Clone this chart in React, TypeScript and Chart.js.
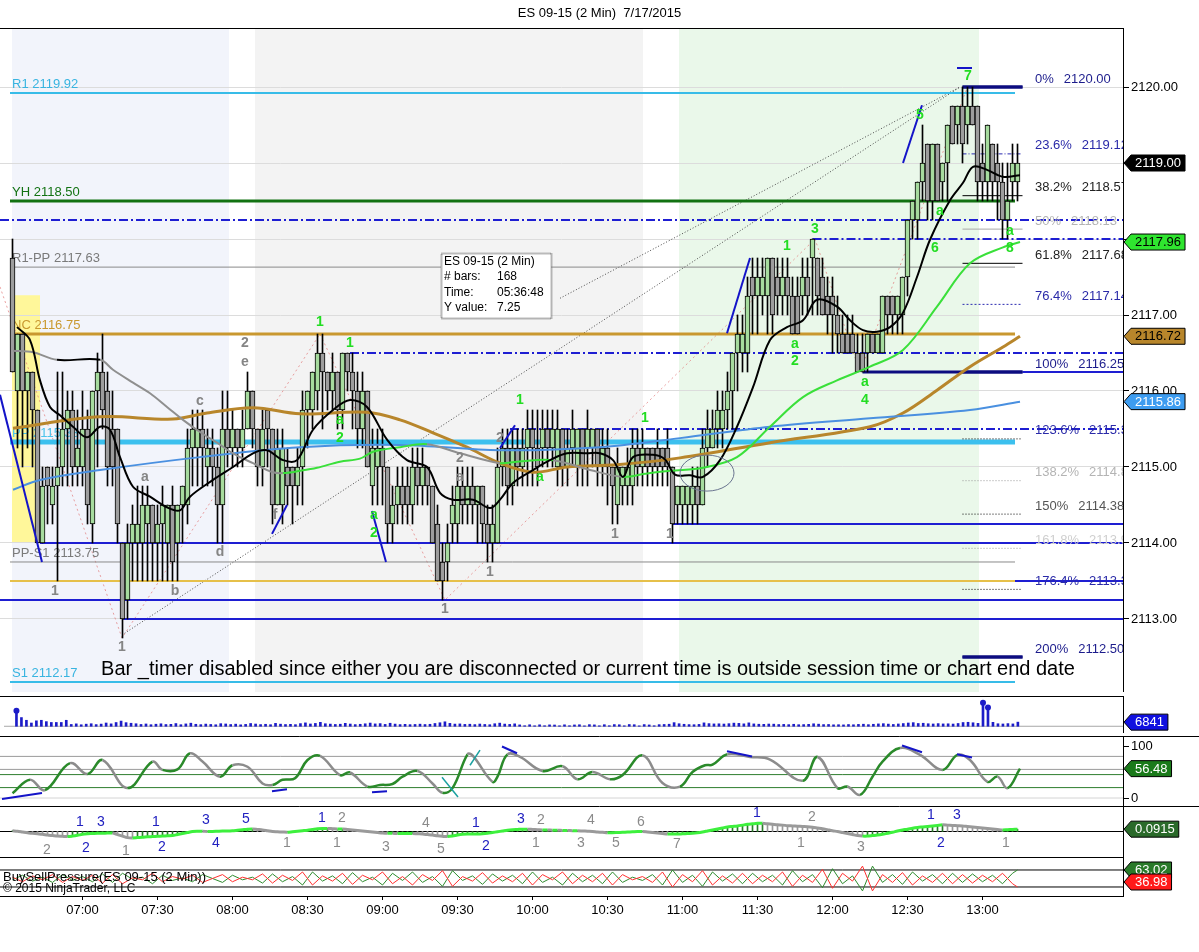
import { useEffect, useRef } from "react";
import { Chart, registerables } from "chart.js";

Chart.register(...registerables);

const FONT = "Arial, 'Liberation Sans', Helvetica, sans-serif";
const CANVAS_W = 1199;
const AXIS_W = 76;
const AXIS_X = 1123;
const X_MIN = -2.5;
const X_MAX = 222.1;

/* ======================= DATA ======================= */
const chartTitle = "ES 09-15 (2 Min)  7/17/2015";
const timeLabels = ["07:00", "07:30", "08:00", "08:30", "09:00", "09:30", "10:00", "10:30", "11:00", "11:30", "12:00", "12:30", "13:00"];
const timeTickBars = [14, 29, 44, 59, 74, 89, 104, 119, 134, 149, 164, 179, 194];
const priceTicks = [2113, 2114, 2115, 2116, 2117, 2118, 2119, 2120];
const oscTicks = [0, 100];

const opens = [
  2117.75, 2116, 2116.75, 2116, 2116.25, 2115.75, 2114, 2115, 2114.5, 2114.75,
  2115, 2115.5, 2115.75, 2115, 2115, 2115.5, 2114.25, 2116, 2116.25, 2116,
  2115.5, 2115.5, 2114, 2113.25, 2114, 2114, 2114, 2114.25, 2114.5, 2114,
  2114.25, 2114, 2114.5, 2114, 2114.5, 2114.5, 2115.25, 2115.25, 2115.5, 2115,
  2115.25, 2115, 2114.5, 2115.5, 2115.25, 2115.5, 2115.25, 2115.5, 2116, 2115.5,
  2115, 2115.75, 2115.5, 2114.5, 2114.5, 2115, 2115, 2114.75, 2115, 2115.75,
  2115.75, 2116, 2116.5, 2116.25, 2116, 2116.25, 2115.75, 2116.5, 2116.25, 2116,
  2115.5, 2116, 2114.75, 2115, 2115.25, 2115, 2114.25, 2114.5, 2114.75, 2114.75,
  2114.5, 2115, 2114.75, 2115, 2114.75, 2114.25, 2113.75, 2113.75, 2114.25, 2114.25,
  2114.75, 2114.5, 2114.75, 2114.5, 2114.75, 2114.25, 2114, 2114, 2115, 2115.25,
  2114.75, 2115.25, 2115, 2115.25, 2115.5, 2115.25, 2115.25, 2115.5, 2115.25, 2115,
  2115.5, 2115, 2115.25, 2115, 2115.5, 2115.25, 2115.25, 2115.5, 2115, 2115.25,
  2115, 2114.5, 2114.75, 2114.75, 2114.75, 2115.25, 2115, 2115.25, 2115.25, 2115.25,
  2115.25, 2115.25, 2115, 2114.5, 2114.5, 2114.5, 2114.5, 2114.75, 2114.5, 2115.25,
  2115.25, 2115.5, 2115.5, 2115.75, 2116, 2116.5, 2116.5, 2116.5, 2117.5, 2117.25,
  2117.25, 2117.25, 2117.75, 2117.5, 2117.25, 2117.5, 2117.25, 2117.25, 2117.25, 2117.5,
  2117.75, 2117.75, 2117.5, 2117.25, 2117.25, 2117, 2116.75, 2116.75, 2116.75, 2116.5,
  2116.5, 2116.5, 2116.75, 2116.5, 2116.5, 2117.25, 2117.25, 2117, 2117, 2117.5,
  2118.25, 2118.25, 2118.75, 2119.25, 2118.5, 2119.25, 2118.75, 2119, 2119.75, 2119.5,
  2119.75, 2119.5, 2119.75, 2119.75, 2119, 2118.75, 2119.25, 2119, 2118.75, 2118.25,
  2118.75, 2118.75,
];
const highs = [
  2118, 2116.75, 2116.75, 2116.25, 2116.25, 2115.75, 2115, 2115, 2115, 2116.25,
  2116.25, 2116, 2116, 2115.75, 2116, 2115.75, 2116, 2116.5, 2116.75, 2116.25,
  2116, 2115.5, 2114, 2114.25, 2114.5, 2114.75, 2114.75, 2114.75, 2114.5, 2114.5,
  2114.75, 2114.5, 2114.75, 2114.5, 2114.75, 2115.5, 2115.75, 2115.75, 2115.75, 2115.5,
  2115.5, 2115.25, 2116, 2116, 2115.75, 2115.5, 2115.75, 2116.25, 2116, 2115.5,
  2115.75, 2115.75, 2115.5, 2115.5, 2115.5, 2115.25, 2115, 2115.25, 2116, 2116,
  2116.25, 2116.75, 2116.75, 2116.25, 2116.5, 2116.25, 2116.5, 2116.5, 2116.5, 2116.25,
  2116.25, 2116, 2115.5, 2115.5, 2115.5, 2115, 2114.75, 2115, 2115, 2115,
  2115.25, 2115.25, 2115.25, 2115, 2114.75, 2114.5, 2114, 2114.25, 2114.75, 2115,
  2115, 2115, 2115, 2114.75, 2114.75, 2114.5, 2114.5, 2115.25, 2115.5, 2115.5,
  2115.5, 2115.5, 2115.5, 2115.75, 2115.75, 2115.75, 2115.75, 2115.75, 2115.75, 2115.75,
  2115.5, 2115.5, 2115.75, 2115.5, 2115.5, 2115.75, 2115.5, 2115.5, 2115.5, 2115.5,
  2115, 2115.25, 2115, 2115.25, 2115.5, 2115.5, 2115.5, 2115.25, 2115.25, 2115.5,
  2115.25, 2115.5, 2115, 2114.75, 2114.75, 2114.75, 2115, 2115, 2115.5, 2115.75,
  2115.75, 2116, 2116, 2116.25, 2116.5, 2117, 2117, 2117.5, 2117.75, 2117.75,
  2117.75, 2117.75, 2117.75, 2117.75, 2117.75, 2117.75, 2117.5, 2117.5, 2117.75, 2117.75,
  2118, 2117.75, 2117.75, 2117.5, 2117.5, 2117.25, 2117, 2117, 2117, 2116.75,
  2116.75, 2116.75, 2116.75, 2116.75, 2117.25, 2117.25, 2117.25, 2117.25, 2117.5, 2118.25,
  2118.5, 2118.75, 2119.5, 2119.25, 2119.25, 2119.25, 2119, 2119.5, 2119.75, 2119.75,
  2120, 2120, 2120, 2119.75, 2119.25, 2119.5, 2119.25, 2119.25, 2119, 2119,
  2119.25, 2119.25,
];
const lows = [
  2116.25, 2115.25, 2115, 2115.25, 2115, 2114, 2114, 2114.25, 2114.25, 2113.5,
  2114.75, 2114.75, 2114.75, 2114.75, 2114.75, 2114.25, 2114, 2115, 2115.5, 2114.75,
  2114.75, 2114, 2112.75, 2113, 2113.5, 2113.5, 2113.5, 2113.5, 2113.5, 2113.5,
  2113.5, 2113.5, 2113.5, 2113.5, 2114, 2114.25, 2114.75, 2114.75, 2114.75, 2114.75,
  2114.75, 2114, 2114, 2115, 2115, 2115, 2115, 2115.5, 2115.25, 2114.75,
  2114.75, 2115, 2114.25, 2114.5, 2114.25, 2114.5, 2114.25, 2114.5, 2114.5, 2115.25,
  2115.5, 2115.75, 2115.5, 2115.75, 2115.75, 2115.5, 2115.5, 2116, 2115.5, 2115.25,
  2115.25, 2115, 2114.5, 2114.5, 2114.5, 2114, 2114, 2114.25, 2114.25, 2114.25,
  2114.25, 2114.5, 2114.5, 2114.5, 2114, 2113.5, 2113.25, 2113.5, 2114, 2114,
  2114.25, 2114.25, 2114.25, 2114, 2114, 2113.75, 2113.75, 2114, 2114.75, 2114.5,
  2114.5, 2114.75, 2114.75, 2114.75, 2114.75, 2114.75, 2115, 2115, 2115, 2114.75,
  2114.75, 2114.75, 2115, 2114.75, 2114.75, 2114.75, 2115, 2114.75, 2114.75, 2114.5,
  2114.25, 2114.25, 2114.5, 2114.5, 2114.5, 2114.75, 2114.75, 2114.75, 2114.75, 2114.75,
  2114.75, 2114.75, 2114, 2114.25, 2114.25, 2114.25, 2114.25, 2114.25, 2114.5, 2115,
  2115.25, 2115.25, 2115.25, 2115.5, 2115.5, 2116, 2116.25, 2116.25, 2116.75, 2116.75,
  2117, 2116.75, 2116.75, 2117, 2117, 2117, 2116.75, 2116.75, 2117, 2117,
  2117, 2117, 2117, 2116.75, 2116.5, 2116.5, 2116.5, 2116.5, 2116.5, 2116.25,
  2116.25, 2116.25, 2116.5, 2116.5, 2116.5, 2116.75, 2116.75, 2116.75, 2116.75, 2117.25,
  2118, 2118, 2118.5, 2118.25, 2118.25, 2118.5, 2118.5, 2118.5, 2119.25, 2119.25,
  2119, 2119.25, 2119.5, 2118.5, 2118.5, 2118.5, 2118.5, 2118.25, 2118, 2118,
  2118.5, 2118.5,
];
const closes = [
  2116.25, 2116.75, 2116, 2116.25, 2115.75, 2114, 2114.75, 2114.75, 2114.75, 2115,
  2115.5, 2115.75, 2115, 2115.25, 2115.5, 2114.5, 2116, 2116.25, 2115.75, 2115,
  2115, 2114.25, 2113, 2114, 2114.25, 2114.25, 2114.5, 2114.5, 2114, 2114.25,
  2114.5, 2114.5, 2113.75, 2114.5, 2114.75, 2115.25, 2115.5, 2115.5, 2115.25, 2115.25,
  2115, 2114.5, 2115.5, 2115.25, 2115.5, 2115.25, 2115.5, 2116, 2115.5, 2115,
  2115.5, 2115.5, 2114.5, 2115.25, 2115.25, 2114.75, 2114.75, 2115, 2115.75, 2116,
  2116.25, 2116.5, 2116.25, 2116, 2116.25, 2115.75, 2116.5, 2116.25, 2116, 2115.5,
  2116, 2115, 2115.25, 2115.25, 2115, 2114.25, 2114.5, 2114.75, 2114.5, 2114.5,
  2115, 2114.75, 2115, 2114.75, 2114, 2113.5, 2113.5, 2114, 2114.5, 2114.75,
  2114.5, 2114.75, 2114.5, 2114.75, 2114.25, 2114, 2114.25, 2115, 2115.25, 2114.75,
  2115.25, 2115, 2115.25, 2115.5, 2115.25, 2115, 2115.5, 2115.25, 2115.5, 2115.5,
  2115, 2115.25, 2115.5, 2115.5, 2115, 2115.5, 2115.5, 2115, 2115.25, 2115,
  2114.75, 2115, 2115, 2115, 2115.25, 2115, 2115.25, 2115, 2115, 2115,
  2115, 2115, 2114.25, 2114.75, 2114.75, 2114.75, 2114.75, 2114.5, 2115.25, 2115.5,
  2115.5, 2115.75, 2115.75, 2116, 2116.5, 2116.75, 2116.75, 2117.25, 2117.25, 2117.5,
  2117.5, 2117.75, 2117, 2117.25, 2117.5, 2117.25, 2116.75, 2116.75, 2117.5, 2117.25,
  2118, 2117.25, 2117, 2117, 2117, 2116.75, 2116.5, 2116.5, 2116.5, 2116.25,
  2116.25, 2116.75, 2116.5, 2116.75, 2117.25, 2117, 2117, 2117.25, 2117.5, 2118.25,
  2118.5, 2118.75, 2119, 2118.5, 2119.25, 2118.5, 2119, 2119.5, 2119.25, 2119.75,
  2119.25, 2119.75, 2119.5, 2118.75, 2118.75, 2119.5, 2118.75, 2118.75, 2118.25, 2118.5,
  2119, 2119,
];
const volumes = [
  25700, 14400, 9900, 5400, 9000, 9900, 7700, 6300, 6300, 6300, 9900,
  3000, 4000, 2500, 3500, 4200, 2800, 3600, 5400, 4000, 6200,
  8600, 6000, 5000, 4200, 3000, 3800, 2600, 3400, 4100, 2900,
  3200, 4500, 2600, 3900, 5100, 3300, 2700, 3600, 3000, 2500,
  4300, 3800, 2900, 3500, 2400, 3100, 4600, 3700, 2800, 3300,
  2600, 4800, 3500, 2900, 3200, 2700, 4400, 5600, 3800, 4700,
  6500, 4200, 3600, 3000, 3400, 4900, 3700, 2800, 3300, 4100,
  5300, 3900, 4400, 3100, 5000, 3600, 2800, 3200, 2700, 3000,
  3500, 2900, 3300, 4600, 5800, 7400, 4800, 3600, 3900, 3100,
  3400, 2800, 3700, 3000, 2600, 4200, 5200, 3600, 3100, 4000,
  2300, 900, 2500, 800, 2400, 900, 2300, 2100, 800, 2400,
  900, 2200, 2500, 700, 2700, 2300, 800, 2600, 900, 2800,
  2500, 800, 2900, 2600, 700, 2800, 2200, 900, 2700, 3000,
  3400, 6000, 4200, 3300, 2800, 2600, 3100, 5600, 4400, 3900,
  4100, 3700, 4300, 5200, 4800, 4000, 5600, 3900, 3400, 3200,
  3700, 3500, 2900, 3100, 2700, 3300, 2600, 2800, 3200, 4100,
  3500, 2800, 3000, 2400, 2600, 2300, 2900, 2500, 3100, 3400,
  2700, 3300, 3900, 4300, 3600, 3000, 3800, 4500, 5400, 6000,
  4600, 5000, 4200, 3800, 4400, 3900, 4100, 3700, 4600, 6200,
  6600, 5800, 4800, 39000, 31000, 6500, 4200, 3800, 4400, 3900, 6841,
];

// moving averages: [bar index, price]
const fastMA = [
  [0.9, 2116.84], [3.5, 2116.67], [5.5, 2116.14], [7.5, 2115.79], [9.5, 2115.68], [12.1, 2115.53], [14.9, 2115.39],
  [17.5, 2115.53], [19.5, 2115.49], [21.5, 2115.13], [24.1, 2114.74], [27.5, 2114.61], [30.9, 2114.47], [33.5, 2114.43],
  [35.5, 2114.61], [40.1, 2114.83], [44.1, 2115.0], [48.1, 2115.18], [50.9, 2115.22], [54.1, 2115.09], [56.9, 2115.09],
  [60.1, 2115.49], [64.1, 2115.75], [67.5, 2115.88], [70.9, 2115.79], [74.9, 2115.36], [78.9, 2115.09], [82.9, 2115.0],
  [85.5, 2114.66], [88.1, 2114.57], [92.1, 2114.57], [95.5, 2114.46], [97.5, 2114.57], [100.1, 2114.79], [104.1, 2114.96],
  [107.5, 2115.09], [110.9, 2115.18], [114.9, 2115.18], [117.5, 2115.18], [120.1, 2115.09], [122.1, 2114.87], [124.1, 2115.13],
  [128.1, 2115.16], [130.5, 2115.1], [132.5, 2114.9], [135.5, 2114.89], [138.1, 2114.87], [141.5, 2115.09], [144.9, 2115.53],
  [148.1, 2116.05], [151.5, 2116.67], [154.9, 2116.84], [158.1, 2116.93], [160.9, 2117.2], [164.9, 2117.11], [167.5, 2116.93],
  [170.1, 2116.8], [172.9, 2116.78], [175.5, 2116.84], [178.1, 2117.03], [180.9, 2117.5], [183.5, 2117.99], [187.5, 2118.51],
  [190.1, 2118.74], [192.1, 2118.95], [194.9, 2118.91], [198.1, 2118.82], [201.5, 2118.84],
];
const midMA = [
  [0.1, 2116.53], [4.1, 2116.51], [8.9, 2116.41], [17.5, 2116.41], [20.1, 2116.28], [24.1, 2116.11], [27.5, 2115.97],
  [30.9, 2115.79], [34.1, 2115.62], [37.5, 2115.46], [40.9, 2115.32], [44.1, 2115.18], [48.1, 2115.05], [52.1, 2114.93],
  [54.1, 2114.92], [57.5, 2114.95], [60.9, 2114.99], [65.5, 2115.07], [69.5, 2115.11], [72.1, 2115.2], [77.5, 2115.26],
  [82.9, 2115.3], [89.5, 2115.18], [97.5, 2115.05], [100.9, 2115.07], [108.1, 2115.09], [115.5, 2114.96], [122.1, 2114.87],
  [126.5, 2114.91], [131.5, 2114.95], [138.1, 2114.99], [144.9, 2115.13], [151.5, 2115.53], [158.1, 2115.92], [164.9, 2116.14],
  [171.5, 2116.32], [178.1, 2116.54], [184.9, 2117.11], [191.5, 2117.68], [198.1, 2117.89], [201.5, 2117.96],
];
const slowMA = [
  [0.1, 2115.51], [17.5, 2115.66], [32.1, 2115.63], [38.9, 2115.71], [48.1, 2115.78], [57.5, 2115.7], [70.9, 2115.72],
  [77.5, 2115.62], [84.1, 2115.45], [90.9, 2115.26], [97.5, 2115.05], [104.1, 2114.93], [110.9, 2115.0], [120.9, 2115.03],
  [133.5, 2115.12], [151.5, 2115.32], [171.5, 2115.53], [178.1, 2115.71], [184.9, 2116.01], [191.5, 2116.32], [198.1, 2116.58],
  [201.5, 2116.72],
];
const longMA = [
  [0.1, 2114.7], [5.5, 2114.83], [17.5, 2114.96], [37.5, 2115.13], [57.5, 2115.26], [77.5, 2115.29], [97.5, 2115.22],
  [117.5, 2115.26], [133.5, 2115.38], [151.5, 2115.53], [171.5, 2115.64], [191.5, 2115.75], [201.5, 2115.86],
];

// horizontal levels
const pivotLevels = [["R1", 2119.92], ["YH", 2118.5], ["R1-PP", 2117.63], ["NC", 2116.75], ["PP", 2115.33], ["PP-S1", 2113.75], ["S1", 2112.17]];
const pivotSpan = [-0.5, 200.5];
const goldLevel = [2113.5, -0.5, 200.5];
// [price, from bar, to bar (null = right edge), dash-dot?]
const srLevels = [
  [2118.25, -2.5, null, true], [2118.0, 160, null, true], [2116.5, 67.5, null, true], [2115.5, 99.5, null, true],
  [2116.25, 202, null, false], [2114.25, 132, null, false], [2114.0, 5.5, null, false], [2113.5, 200.5, null, false],
  [2113.25, -2.5, null, false], [2113.0, 22, null, false],
];
const swingLevels = [[2120.0, 190, 202], [2116.25, 170, 202], [2112.5, 190, 202]];
const fibLevels = [
  ["0%", 2120.0], ["23.6%", 2119.12], ["38.2%", 2118.57], ["50%", 2118.13], ["61.8%", 2117.68], ["76.4%", 2117.14],
  ["100%", 2116.25], ["123.6%", 2115.37], ["138.2%", 2114.82], ["150%", 2114.38], ["161.8%", 2113.93], ["176.4%", 2113.39],
  ["200%", 2112.5],
];
const fibSpan = [190, 202];
const fibLabelBar = 204.5;

const sessionShades = [[-0.1, 43.3], [48.5, 126.1], [133.3, 193.3]];
const highlightBox = [-0.1, 5.5, 2117.26, 2114.0];
const trendSegments = [
  [-2.5, 2115.95, 5.9, 2113.75], [51.9, 2114.12, 54.9, 2114.5], [71.9, 2114.42, 74.7, 2113.75],
  [97.5, 2115.25, 100.5, 2115.55], [142.9, 2116.76, 147.5, 2117.75], [178.1, 2119.0, 181.9, 2119.76],
  [188.9, 2120.25, 191.9, 2120.25],
];
const guideLines = [[21.9, 2112.79, 189.5, 2120.0], [109.5, 2117.22, 189.5, 2120.0]];
const zigzag = [[-2.5, 2117.37], [21.9, 2112.75], [61.5, 2116.75], [86.5, 2113.25], [160.5, 2118.0], [169.5, 2116.25], [191, 2120.0]];
const ellipseCenter = [138.9, 2114.92];
const greenLabels = [
  [61.5, 2116.9, "1"], [67.5, 2116.63, "1"], [65.5, 2115.62, "a"], [65.5, 2115.38, "2"], [72.3, 2114.36, "a"], [72.3, 2114.13, "2"],
  [101.5, 2115.88, "1"], [105.5, 2114.87, "a"], [126.5, 2115.64, "1"], [154.9, 2117.9, "1"], [160.5, 2118.13, "3"],
  [156.5, 2116.62, "a"], [156.5, 2116.39, "2"], [170.5, 2116.12, "a"], [170.5, 2115.88, "4"], [181.5, 2119.63, "5"],
  [191.1, 2120.14, "7"], [185.5, 2118.37, "a"], [184.5, 2117.88, "6"], [199.5, 2118.1, "a"], [199.5, 2117.88, "8"],
];
const grayLabels = [
  [8.5, 2113.37, "1"], [21.9, 2112.63, "1"], [32.5, 2113.37, "b"], [26.5, 2114.87, "a"], [37.5, 2115.87, "c"], [41.5, 2113.88, "d"],
  [46.5, 2116.63, "2"], [46.5, 2116.38, "e"], [52.5, 2114.37, "f"], [89.5, 2115.12, "2"], [89.5, 2114.87, "a"], [97.5, 2115.38, "2"],
  [95.5, 2113.62, "1"], [86.5, 2113.13, "1"], [120.5, 2114.12, "1"], [131.5, 2114.12, "1"],
];
const infoBox = [85.7, 2117.82, 107.7, 2116.96];
const infoRows = [["ES 09-15 (2 Min)", ""], ["# bars:", "168"], ["Time:", "05:36:48"], ["Y value:", "7.25"]];
const timerMessage = "Bar _timer disabled since either you are disconnected or current time is outside session time or chart end date";
const timerAnchor = [115.1, 2112.34];

// oscillator panel: [bar, value]
const oscPoints = [
  [0, 9], [3.5, 35], [6.5, 15], [11.5, 67], [15, 46], [18, 73], [23, 19], [28, 70], [30, 54], [33, 55], [35.5, 86], [38, 70],
  [41.5, 41], [44, 63], [47, 60], [50, 28], [52, 25], [54, 35], [56.5, 38], [59, 73], [61.5, 81], [65.5, 44], [67.5, 49],
  [71, 22], [73.5, 25], [76, 27], [78, 41], [81, 52], [84, 28], [86, 10], [88, 19], [91, 84], [92, 82], [96, 31], [97, 41],
  [99, 84], [101.5, 79], [106, 52], [110, 61], [113, 36], [116, 50], [119.5, 36], [122, 44], [126, 82], [130, 29],
  [133.5, 22], [136, 50], [138.5, 63], [140, 64], [143, 84], [147.5, 79], [151.5, 74], [158, 33], [161, 79], [165, 19],
  [167, 22], [169.5, 6], [172, 41], [174, 70], [177.5, 96], [181.5, 83], [186, 54], [189, 83], [191.5, 73], [195, 31],
  [197, 41], [199, 19], [201.5, 56.48],
];
const oscLevels = [80, 55, 45, 20, 0];
const oscTrend = [
  [-2.1, -2, 5.9, 9.6], [51.9, 13, 54.9, 17], [71.9, 11, 74.9, 13], [97.9, 99, 100.9, 86],
  [142.9, 90, 147.9, 80], [177.9, 101, 181.9, 88], [188.9, 84, 191.9, 78],
];
const oscTeal = [[85.9, 40, 89.1, 2], [91.5, 63, 93.5, 92]];

// histogram panel (one value per bar)
const histValues = [
  0.03, 0.01, -0.02, -0.05, -0.07, -0.09, -0.11, -0.14, -0.16, -0.18,
  -0.19, -0.2, -0.18, -0.15, -0.11, -0.09, -0.08, -0.07, -0.07, -0.06,
  -0.06, -0.12, -0.18, -0.24, -0.25, -0.24, -0.23, -0.21, -0.2, -0.19,
  -0.18, -0.17, -0.16, -0.12, -0.08, -0.04, 0.0, 0.01, 0.01, 0.0,
  0.0, 0.01, 0.02, 0.02, 0.03, 0.05, 0.07, 0.09, 0.1, 0.08,
  0.06, 0.03, 0.0, -0.01, -0.02, -0.03, -0.01, 0.01, 0.03, 0.05,
  0.08, 0.11, 0.12, 0.12, 0.11, 0.1, 0.1, 0.08, 0.06, 0.04,
  0.02, 0.0, -0.02, -0.04, -0.06, -0.07, -0.07, -0.08, -0.08, -0.08,
  -0.08, -0.09, -0.1, -0.12, -0.14, -0.17, -0.19, -0.2, -0.18, -0.14,
  -0.11, -0.1, -0.1, -0.1, -0.09, -0.07, -0.04, -0.01, 0.02, 0.05,
  0.07, 0.08, 0.09, 0.09, 0.08, 0.07, 0.06, 0.06, 0.05, 0.05,
  0.04, 0.04, 0.03, 0.03, 0.02, 0.01, 0.0, -0.02, -0.03, -0.05,
  -0.05, -0.04, -0.03, -0.02, -0.01, 0.0, 0.0, -0.02, -0.04, -0.06,
  -0.08, -0.1, -0.1, -0.1, -0.09, -0.08, -0.07, -0.05, -0.02, 0.02,
  0.06, 0.1, 0.14, 0.18, 0.2, 0.22, 0.25, 0.28, 0.3, 0.32,
  0.32, 0.3, 0.28, 0.26, 0.25, 0.23, 0.22, 0.21, 0.2, 0.19,
  0.17, 0.14, 0.11, 0.07, 0.03, 0.0, -0.04, -0.08, -0.12, -0.16,
  -0.18, -0.18, -0.16, -0.14, -0.11, -0.07, -0.03, 0.02, 0.06, 0.09,
  0.13, 0.16, 0.18, 0.2, 0.22, 0.24, 0.26, 0.25, 0.24, 0.23,
  0.22, 0.2, 0.18, 0.16, 0.14, 0.12, 0.1, 0.08, 0.06, 0.07,
  0.08, 0.0915,
];
const histLabelsBlue = [
  [13.5, 0.37, "1"], [17.7, 0.37, "3"], [14.7, -0.65, "2"], [28.7, 0.37, "1"], [29.9, -0.61, "2"], [38.7, 0.45, "3"],
  [40.7, -0.45, "4"], [46.7, 0.49, "5"], [61.9, 0.53, "1"], [92.7, 0.33, "1"], [94.7, -0.57, "2"], [101.7, 0.49, "3"],
  [148.9, 0.73, "1"], [183.7, 0.65, "1"], [188.9, 0.65, "3"], [185.7, -0.45, "2"],
];
const histLabelsGray = [
  [6.9, -0.73, "2"], [22.7, -0.76, "1"], [54.9, -0.45, "1"], [65.9, 0.53, "2"], [64.9, -0.45, "1"], [74.7, -0.61, "3"],
  [82.7, 0.33, "4"], [85.7, -0.69, "5"], [105.7, 0.45, "2"], [104.7, -0.45, "1"], [113.7, -0.45, "3"], [115.7, 0.45, "4"],
  [120.7, -0.45, "5"], [125.7, 0.37, "6"], [132.9, -0.49, "7"], [159.9, 0.57, "2"], [157.7, -0.45, "1"], [169.7, -0.61, "3"],
  [198.7, -0.45, "1"],
];

// BuySellPressure: buy-side value [bar, value]; sell side is its complement
const bspGreen = [
  [0, 48], [2, 55], [4, 46], [6, 52], [8, 44], [10, 56], [12, 47], [14, 53], [16, 45], [18, 57], [20, 44], [22, 58], [24, 49],
  [26, 52], [28, 42], [30, 55], [32, 47], [34, 51], [36, 45], [38, 56], [40, 50], [42, 44], [44, 55], [46, 48], [48, 52],
  [50, 43], [52, 57], [54, 45], [56, 53], [58, 40], [60, 60], [62, 46], [64, 54], [66, 42], [68, 59], [70, 45], [72, 52],
  [74, 40], [76, 58], [78, 47], [80, 60], [82, 44], [84, 53], [86, 38], [88, 62], [90, 47], [92, 54], [94, 41], [96, 57],
  [98, 46], [100, 55], [102, 42], [104, 60], [106, 44], [108, 52], [110, 40], [112, 58], [114, 45], [116, 55], [118, 42],
  [120, 60], [122, 44], [124, 52], [126, 47], [128, 56], [130, 40], [132, 63], [134, 44], [136, 55], [138, 38], [140, 60],
  [142, 46], [144, 57], [146, 42], [148, 58], [150, 45], [152, 55], [154, 40], [156, 62], [158, 45], [160, 56], [162, 36],
  [164, 65], [166, 42], [168, 54], [170, 31], [172, 69], [174, 44], [176, 56], [178, 41], [180, 60], [182, 46], [184, 56],
  [186, 42], [188, 58], [190, 44], [192, 57], [194, 45], [196, 55], [198, 42], [200, 58], [201, 63.02],
];

/* ======================= STYLES ======================= */
const UP_COLOR = "#a6db9e";
const DOWN_COLOR = "#9d9d9d";
const SR_BLUE = "#1e1ed2";
const NAVY = "#0c0c80";
const DASHDOT = [9, 3, 2, 3];
const SHADE_COLORS = ["#f2f4fb", "#f3f3f3", "#eaf8ea"];
const PIVOT_STYLE: any = {
  R1: { c: "#38bce8", t: "#38b4e0", w: 2 },
  YH: { c: "#127212", t: "#127212", w: 3 },
  "R1-PP": { c: "#8a8a8a", t: "#7a7a7a", w: 1 },
  NC: { c: "#c9982f", t: "#c9982f", w: 3 },
  PP: { c: "#3cc0ee", t: "#4cc4ec", w: 5 },
  "PP-S1": { c: "#8a8a8a", t: "#7a7a7a", w: 1 },
  S1: { c: "#38bce8", t: "#38b4e0", w: 2 },
};
const FIB_STYLE = [
  { c: NAVY, w: 3, d: [] }, { c: "#2a2ab0", w: 1, d: [4, 2, 1, 2] }, { c: "#000", w: 1, d: [] }, { c: "#a8a8a8", w: 1, d: [] },
  { c: "#000", w: 1, d: [] }, { c: "#2a2ab0", w: 1, d: [2, 2] }, { c: NAVY, w: 3, d: [] }, { c: "#000", w: 1, d: [1, 2] },
  { c: "#999", w: 1, d: [1, 2] }, { c: "#000", w: 1, d: [1, 2] }, { c: "#999", w: 1, d: [1, 2] }, { c: "#000", w: 1, d: [1, 2] },
  { c: NAVY, w: 3, d: [] },
];
const FIB_TEXT = ["#1c1c8c", "#2a2aa8", "#222", "#b4b4b4", "#222", "#2a2aa8", "#1c1c8c", "#2a2aa8", "#b4b4b4", "#555", "#cfcfcf", "#2a2aa8", "#1c1c8c"];
const OSC_LEVEL_COLORS = ["#9a9a9a", "#9a9a9a", "#2e7d2e", "#2e7d2e", "#d4d4d4"];

/* ======================= HELPERS ======================= */
const fitRight = (s: any) => {
  s.width = AXIS_W;
  s.paddingTop = 0;
  s.paddingBottom = 0;
};
const hiddenX = () => ({ type: "linear", min: X_MIN, max: X_MAX, offset: false, display: false });

function rightAxis(min: number, max: number, extra: any = {}) {
  return {
    type: "linear",
    position: "right",
    min,
    max,
    offset: false,
    beginAtZero: false,
    afterFit: fitRight,
    border: { display: true, color: "#000", width: 1 },
    grid: { display: false },
    ticks: { display: false },
    ...extra,
  };
}

function baseOptions(scales: any, plugins: any = {}) {
  return {
    responsive: false,
    maintainAspectRatio: false,
    animation: false,
    devicePixelRatio: 1,
    events: [],
    layout: { padding: 0 },
    plugins: { legend: { display: false }, tooltip: { enabled: false }, ...plugins },
    scales,
  };
}

function hline(value: number, from: number | null, to: number | null, color: string, width: number, dash: number[] = [], order = 20) {
  return {
    type: "line",
    data: [
      { x: from == null ? X_MIN : from, y: value },
      { x: to == null ? X_MAX : to, y: value },
    ],
    borderColor: color,
    borderWidth: width,
    borderDash: dash,
    pointRadius: 0,
    tension: 0,
    fill: false,
    order,
  };
}

function curve(points: number[][], color: string, width: number, order: number, tension = 0.35) {
  return {
    type: "line",
    data: points.map(([x, y]) => ({ x, y })),
    borderColor: color,
    borderWidth: width,
    pointRadius: 0,
    tension,
    fill: false,
    order,
  };
}

const pxX = (c: any) => (v: number) => c.scales.x.getPixelForValue(v);
const pxY = (c: any) => (v: number) => c.scales.y.getPixelForValue(v);

function withClip(chart: any, fn: (ctx: CanvasRenderingContext2D) => void) {
  const { ctx, chartArea: a } = chart;
  ctx.save();
  ctx.beginPath();
  ctx.rect(a.left, a.top, a.right - a.left, a.bottom - a.top);
  ctx.clip();
  fn(ctx);
  ctx.restore();
}

function hrule(ctx: CanvasRenderingContext2D, x1: number, x2: number, y: number) {
  ctx.save();
  ctx.strokeStyle = "#000";
  ctx.lineWidth = 1;
  ctx.beginPath();
  ctx.moveTo(x1, Math.round(y) + 0.5);
  ctx.lineTo(x2, Math.round(y) + 0.5);
  ctx.stroke();
  ctx.restore();
}

function vrule(ctx: CanvasRenderingContext2D, x: number, y1: number, y2: number) {
  ctx.save();
  ctx.strokeStyle = "#000";
  ctx.lineWidth = 1;
  ctx.beginPath();
  ctx.moveTo(x + 0.5, y1);
  ctx.lineTo(x + 0.5, y2);
  ctx.stroke();
  ctx.restore();
}

function drawMarker(ctx: CanvasRenderingContext2D, y: number, text: string, bg: string, fg: string) {
  const x = AXIS_X + 1;
  ctx.save();
  ctx.font = `13px ${FONT}`;
  const tw = ctx.measureText(text).width;
  const h = 16;
  const arrow = 7;
  const w = tw + 8;
  ctx.beginPath();
  ctx.moveTo(x, y);
  ctx.lineTo(x + arrow, y - h / 2);
  ctx.lineTo(x + arrow + w, y - h / 2);
  ctx.lineTo(x + arrow + w, y + h / 2);
  ctx.lineTo(x + arrow, y + h / 2);
  ctx.closePath();
  ctx.fillStyle = bg;
  ctx.fill();
  ctx.strokeStyle = "#000";
  ctx.lineWidth = 1;
  ctx.stroke();
  ctx.fillStyle = fg;
  ctx.textAlign = "left";
  ctx.textBaseline = "middle";
  ctx.fillText(text, x + arrow + 4, y + 0.5);
  ctx.restore();
}

function segLines(ctx: CanvasRenderingContext2D, X: any, Y: any, segs: number[][], color: string, width: number) {
  ctx.strokeStyle = color;
  ctx.lineWidth = width;
  ctx.setLineDash([]);
  segs.forEach(([a, b, c, d]) => {
    ctx.beginPath();
    ctx.moveTo(X(a), Y(b));
    ctx.lineTo(X(c), Y(d));
    ctx.stroke();
  });
}

const whiteBg = {
  id: "whiteBg",
  beforeDraw(chart: any) {
    const ctx = chart.ctx;
    ctx.save();
    ctx.fillStyle = "#fff";
    ctx.fillRect(0, 0, chart.width, chart.height);
    ctx.restore();
  },
};

/* ======================= MAIN PANEL ======================= */
const MAIN_MAX = 2120.77632;
const MAIN_MIN = 2112.03947;

const mainDecor = {
  id: "mainDecor",
  beforeDraw(chart: any) {
    const { ctx, chartArea: a } = chart;
    const X = pxX(chart);
    const Y = pxY(chart);
    ctx.save();
    ctx.fillStyle = "#fff";
    ctx.fillRect(0, 0, chart.width, chart.height);
    sessionShades.forEach(([f, t], k) => {
      ctx.fillStyle = SHADE_COLORS[k];
      ctx.fillRect(X(f), a.top, X(t) - X(f), a.bottom - a.top);
    });
    const [hf, ht, hp1, hp2] = highlightBox;
    ctx.fillStyle = "#fff79a";
    ctx.fillRect(X(hf), Y(hp1), X(ht) - X(hf), Y(hp2) - Y(hp1));
    ctx.restore();
  },
  beforeDatasetsDraw(chart: any) {
    const X = pxX(chart);
    const Y = pxY(chart);
    withClip(chart, (ctx) => {
      ctx.lineWidth = 1;
      ctx.strokeStyle = "#4a4a4a";
      ctx.setLineDash([1, 2]);
      guideLines.forEach(([a, b, c, d]) => {
        ctx.beginPath();
        ctx.moveTo(X(a), Y(b));
        ctx.lineTo(X(c), Y(d));
        ctx.stroke();
      });
      ctx.strokeStyle = "rgba(225,120,120,0.7)";
      ctx.setLineDash([2, 3]);
      ctx.beginPath();
      zigzag.forEach(([i, p], k) => (k ? ctx.lineTo(X(i), Y(p)) : ctx.moveTo(X(i), Y(p))));
      ctx.stroke();
      ctx.setLineDash([]);
      ctx.font = `13px ${FONT}`;
      ctx.textAlign = "left";
      ctx.textBaseline = "bottom";
      pivotLevels.forEach(([name, v]: any) => {
        ctx.fillStyle = PIVOT_STYLE[name].t;
        ctx.fillText(`${name} ${v.toFixed(2)}`, X(0) - 0.5, Y(v) - 2);
      });
    });
  },
  afterDatasetsDraw(chart: any) {
    const X = pxX(chart);
    const Y = pxY(chart);
    withClip(chart, (ctx) => {
      ctx.strokeStyle = "#6a7590";
      ctx.lineWidth = 1;
      ctx.beginPath();
      ctx.ellipse(X(ellipseCenter[0]), Y(ellipseCenter[1]), 27, 18, 0, 0, Math.PI * 2);
      ctx.stroke();
      segLines(ctx, X, Y, trendSegments, "#1414c8", 2);

      ctx.font = `bold 14px ${FONT}`;
      ctx.textAlign = "center";
      ctx.textBaseline = "middle";
      ctx.fillStyle = "#22dd22";
      greenLabels.forEach(([i, p, t]: any) => ctx.fillText(t, X(i), Y(p)));
      ctx.fillStyle = "#858585";
      grayLabels.forEach(([i, p, t]: any) => ctx.fillText(t, X(i), Y(p)));

      ctx.font = `13px ${FONT}`;
      ctx.textAlign = "left";
      ctx.textBaseline = "bottom";
      fibLevels.forEach(([name, v]: any, k) => {
        ctx.fillStyle = FIB_TEXT[k];
        const x0 = X(fibLabelBar);
        ctx.fillText(name, x0, Y(v) - 1.5);
        const w = ctx.measureText(name).width;
        ctx.fillText(v.toFixed(2), x0 + w + 10, Y(v) - 1.5);
      });

      // info box
      const bx = X(infoBox[0]);
      const by = Y(infoBox[1]);
      const bw = X(infoBox[2]) - bx;
      const bh = Y(infoBox[3]) - by;
      ctx.fillStyle = "#ffffff";
      ctx.fillRect(bx, by, bw, bh);
      ctx.strokeStyle = "#777";
      ctx.setLineDash([1, 1]);
      ctx.strokeRect(Math.round(bx) + 0.5, Math.round(by) + 0.5, Math.round(bw), Math.round(bh));
      ctx.setLineDash([]);
      ctx.fillStyle = "#000";
      ctx.font = `12px ${FONT}`;
      ctx.textBaseline = "middle";
      infoRows.forEach(([k, v], r) => {
        ctx.fillText(k, bx + 3, by + 9 + r * 15.3);
        if (v) ctx.fillText(v, bx + 56, by + 9 + r * 15.3);
      });

      ctx.font = `20px ${FONT}`;
      ctx.textAlign = "center";
      ctx.textBaseline = "middle";
      ctx.fillStyle = "#000";
      ctx.fillText(timerMessage, X(timerAnchor[0]), Y(timerAnchor[1]));
    });
  },
  afterDraw(chart: any) {
    const { ctx, chartArea: a } = chart;
    const Y = pxY(chart);
    hrule(ctx, 0, AXIS_X + 1, a.top);
    vrule(ctx, AXIS_X, a.top, a.bottom);
    const n = closes.length;
    const last = (arr: number[][]) => arr[arr.length - 1][1];
    drawMarker(ctx, Y(closes[n - 1]), closes[n - 1].toFixed(2), "#000", "#fff");
    drawMarker(ctx, Y(last(midMA)), last(midMA).toFixed(2), "#2fe52f", "#000");
    drawMarker(ctx, Y(last(slowMA)), last(slowMA).toFixed(2), "#b8862b", "#000");
    drawMarker(ctx, Y(last(longMA)), last(longMA).toFixed(2), "#3d9cf0", "#fff");
  },
};

function makeMain() {
  const ds: any[] = [];
  pivotLevels.forEach(([name, v]: any) => {
    const st = PIVOT_STYLE[name];
    ds.push(hline(v, pivotSpan[0], pivotSpan[1], st.c, st.w, [], 24));
  });
  ds.push(hline(goldLevel[0], goldLevel[1], goldLevel[2], "#e6c04a", 2, [], 23));
  srLevels.forEach(([v, f, t, dd]: any) => ds.push(hline(v, f, t, SR_BLUE, 2, dd ? DASHDOT : [], 22)));
  swingLevels.forEach(([v, f, t]) => ds.push(hline(v, f, t, NAVY, 3, [], 21)));
  fibLevels.forEach(([, v]: any, k) => {
    const st = FIB_STYLE[k];
    ds.push(hline(v, fibSpan[0], fibSpan[1], st.c, st.w, st.d, 20));
  });
  ds.push({
    type: "bar",
    data: closes.map((_, i) => ({ x: i, y: [lows[i], highs[i]] })),
    backgroundColor: "#000",
    borderWidth: 0,
    barThickness: 1,
    grouped: false,
    order: 11,
  });
  ds.push({
    type: "bar",
    data: closes.map((c, i) => ({ x: i, y: [opens[i], c] })),
    backgroundColor: closes.map((c, i) => (c >= opens[i] ? UP_COLOR : DOWN_COLOR)),
    borderColor: "#000",
    borderWidth: 1,
    borderSkipped: false,
    barThickness: 5,
    grouped: false,
    order: 10,
  });
  ds.push(curve(slowMA, "#b8862b", 3, 4));
  ds.push(curve(longMA, "#4a90e0", 2, 3));
  ds.push({
    ...curve(midMA, "#8f8f8f", 2, 2),
    segment: {
      borderColor: (c: any) => {
        const d = c.p1.parsed.y - c.p0.parsed.y;
        return d > 0 ? "#3ae03a" : d < 0 ? "#8f8f8f" : "#000";
      },
    },
  });
  ds.push(curve(fastMA, "#000", 2, 1));

  return {
    type: "bar",
    data: { datasets: ds },
    options: baseOptions(
      {
        x: hiddenX(),
        y: {
          type: "linear",
          position: "right",
          min: MAIN_MIN,
          max: MAIN_MAX,
          offset: false,
          beginAtZero: false,
          afterFit: fitRight,
          afterBuildTicks: (s: any) => {
            s.ticks = priceTicks.map((v) => ({ value: v }));
          },
          grid: { color: "#dcdcdc", lineWidth: 1, drawTicks: true, tickLength: 6, tickColor: "#000" },
          border: { display: true, color: "#000", width: 1 },
          ticks: { color: "#000", font: { family: FONT, size: 13 }, padding: 2, callback: (v: any) => Number(v).toFixed(2) },
        },
      },
      {
        title: {
          display: true,
          text: chartTitle,
          color: "#000",
          font: { family: FONT, size: 13, weight: "normal" },
          padding: { top: 6, bottom: 6.4 },
        },
      }
    ),
    plugins: [mainDecor],
  };
}

/* ======================= VOLUME ======================= */
const volDecor = {
  id: "volDecor",
  afterDraw(chart: any) {
    const { ctx, chartArea: a } = chart;
    const Y = pxY(chart);
    hrule(ctx, 0, AXIS_X + 1, a.top);
    vrule(ctx, AXIS_X, a.top, a.bottom);
    const v = volumes[volumes.length - 1];
    drawMarker(ctx, Y(v), String(v), "#1010e0", "#fff");
  },
};

function makeVolume() {
  const pts = volumes.map((v, i) => ({ x: i, y: v }));
  return {
    type: "bar",
    data: {
      datasets: [
        hline(0, null, null, "#a8a8a8", 1, [], 5),
        { type: "bar", data: pts, backgroundColor: "#1c1cc8", barThickness: 2, grouped: false, order: 2 },
        {
          type: "line",
          data: pts.filter((p) => p.y > 20000),
          showLine: false,
          pointRadius: 3,
          pointBackgroundColor: "#1c1cc8",
          pointBorderWidth: 0,
          order: 1,
        },
      ],
    },
    options: baseOptions({ x: hiddenX(), y: rightAxis(-9459, 50000) }),
    plugins: [whiteBg, volDecor],
  };
}

/* ======================= OSCILLATOR ======================= */
const oscDecor = {
  id: "oscDecor",
  afterDatasetsDraw(chart: any) {
    const X = pxX(chart);
    const Y = pxY(chart);
    withClip(chart, (ctx) => {
      segLines(ctx, X, Y, oscTrend, "#1414c8", 2);
      segLines(ctx, X, Y, oscTeal, "#1aa0a0", 1.5);
    });
  },
  afterDraw(chart: any) {
    const { ctx, chartArea: a } = chart;
    const Y = pxY(chart);
    hrule(ctx, 0, CANVAS_W, a.top);
    vrule(ctx, AXIS_X, a.top, a.bottom);
    const v = oscPoints[oscPoints.length - 1][1];
    drawMarker(ctx, Y(v), v.toFixed(2), "#1a7a1a", "#fff");
  },
};

function makeOsc() {
  const ds: any[] = oscLevels.map((v, k) => hline(v, null, null, OSC_LEVEL_COLORS[k], 1, [], 10));
  ds.push({
    ...curve(oscPoints, "#2a8a2a", 2.5, 1, 0.4),
    segment: { borderColor: (c: any) => (c.p1.parsed.y >= c.p0.parsed.y ? "#2a8a2a" : "#8c8c8c") },
  });
  return {
    type: "line",
    data: { datasets: ds },
    options: baseOptions({
      x: hiddenX(),
      y: rightAxis(-15.38, 119.23, {
        afterBuildTicks: (s: any) => {
          s.ticks = oscTicks.map((v) => ({ value: v }));
        },
        grid: { display: true, drawOnChartArea: false, drawTicks: true, tickLength: 6, tickColor: "#000" },
        ticks: { display: true, color: "#000", font: { family: FONT, size: 13 }, padding: 2 },
      }),
    }),
    plugins: [whiteBg, oscDecor],
  };
}

/* ======================= HISTOGRAM ======================= */
const histDecor = {
  id: "histDecor",
  afterDatasetsDraw(chart: any) {
    const X = pxX(chart);
    const Y = pxY(chart);
    withClip(chart, (ctx) => {
      ctx.font = `14px ${FONT}`;
      ctx.textAlign = "center";
      ctx.textBaseline = "middle";
      ctx.fillStyle = "#2020c0";
      histLabelsBlue.forEach(([i, v, t]: any) => ctx.fillText(t, X(i), Y(v)));
      ctx.fillStyle = "#8a8a8a";
      histLabelsGray.forEach(([i, v, t]: any) => ctx.fillText(t, X(i), Y(v)));
    });
  },
  afterDraw(chart: any) {
    const { ctx, chartArea: a } = chart;
    const Y = pxY(chart);
    hrule(ctx, 0, CANVAS_W, a.top);
    vrule(ctx, AXIS_X, a.top, a.bottom);
    const v = histValues[histValues.length - 1];
    drawMarker(ctx, Y(v), v.toFixed(4), "#2a6a2a", "#fff");
  },
};

function makeHist() {
  const pts = histValues.map((v, i) => ({ x: i, y: v }));
  return {
    type: "bar",
    data: {
      datasets: [
        hline(0, null, null, "#000", 1, [], 6),
        {
          type: "bar",
          data: pts,
          backgroundColor: histValues.map((v, i) => (i === 0 || v >= histValues[i - 1] ? "#2d7a2d" : "#9a9a9a")),
          barThickness: 1,
          grouped: false,
          order: 3,
        },
        {
          ...curve(histValues.map((v, i) => [i, v]), "#9a9a9a", 3, 1, 0.3),
          segment: { borderColor: (c: any) => (c.p1.parsed.y >= c.p0.parsed.y ? "#3df03d" : "#9a9a9a") },
        },
      ],
    },
    options: baseOptions({ x: hiddenX(), y: rightAxis(-1, 1) }),
    plugins: [whiteBg, histDecor],
  };
}

/* ======================= BUY / SELL PRESSURE ======================= */
const bspDecor = {
  id: "bspDecor",
  afterDraw(chart: any) {
    const { ctx, chartArea: a } = chart;
    const Y = pxY(chart);
    hrule(ctx, 0, AXIS_X + 1, a.top);
    vrule(ctx, AXIS_X, a.top, a.bottom);
    ctx.save();
    ctx.fillStyle = "#000";
    ctx.textAlign = "left";
    ctx.textBaseline = "middle";
    ctx.font = `13px ${FONT}`;
    ctx.fillText("BuySellPressure(ES 09-15 (2 Min))", 3, a.top + 20);
    ctx.font = `12px ${FONT}`;
    ctx.fillText("\u00a9 2015 NinjaTrader, LLC", 3, a.top + 32);
    ctx.restore();
    const g = bspGreen[bspGreen.length - 1][1];
    const r = 100 - g;
    drawMarker(ctx, Y(g), g.toFixed(2), "#2a7a2a", "#fff");
    drawMarker(ctx, Y(r) - 5, r.toFixed(2), "#ff1a1a", "#fff");
  },
};

function makeBsp() {
  const g = bspGreen[bspGreen.length - 1][1];
  return {
    type: "line",
    data: {
      datasets: [
        hline(g, null, null, "#000", 1, [], 6),
        hline(100 - g, null, null, "#000", 1, [], 6),
        curve(bspGreen, "#2e8b2e", 1, 2, 0),
        curve(bspGreen.map(([i, v]) => [i, 100 - v]), "#ff3030", 1, 1, 0),
      ],
    },
    options: baseOptions({
      x: {
        type: "linear",
        min: X_MIN,
        max: X_MAX,
        offset: false,
        position: "bottom",
        afterBuildTicks: (s: any) => {
          s.ticks = timeTickBars.map((v) => ({ value: v }));
        },
        afterFit: (s: any) => {
          s.height = 56;
          s.paddingLeft = 0;
          s.paddingRight = 0;
        },
        grid: { display: true, drawOnChartArea: false, drawTicks: true, tickLength: 4, tickColor: "#000" },
        border: { display: true, color: "#000", width: 1 },
        ticks: {
          autoSkip: false,
          maxRotation: 0,
          color: "#000",
          font: { family: FONT, size: 13 },
          padding: 3,
          callback: (_v: any, idx: number) => timeLabels[idx],
        },
      },
      y: rightAxis(23.19, 82.93),
    }),
    plugins: [whiteBg, bspDecor],
  };
}

/* ======================= REACT ======================= */
function Panel({ top, height, make }: { top: number; height: number; make: () => any }) {
  const ref = useRef<HTMLCanvasElement | null>(null);
  useEffect(() => {
    if (!ref.current) return;
    const chart = new Chart(ref.current, make());
    return () => chart.destroy();
  }, [make]);
  return (
    <canvas
      ref={ref}
      width={CANVAS_W}
      height={height}
      style={{ position: "absolute", left: 0, top, width: CANVAS_W, height, display: "block" }}
    />
  );
}

export default function App() {
  return (
    <div style={{ position: "absolute", left: 0, top: 0, width: CANVAS_W, height: 952, background: "#fff", overflow: "hidden" }}>
      <Panel top={0} height={692} make={makeMain} />
      <Panel top={692} height={44} make={makeVolume} />
      <Panel top={736} height={70} make={makeOsc} />
      <Panel top={806} height={51} make={makeHist} />
      <Panel top={857} height={95} make={makeBsp} />
    </div>
  );
}
